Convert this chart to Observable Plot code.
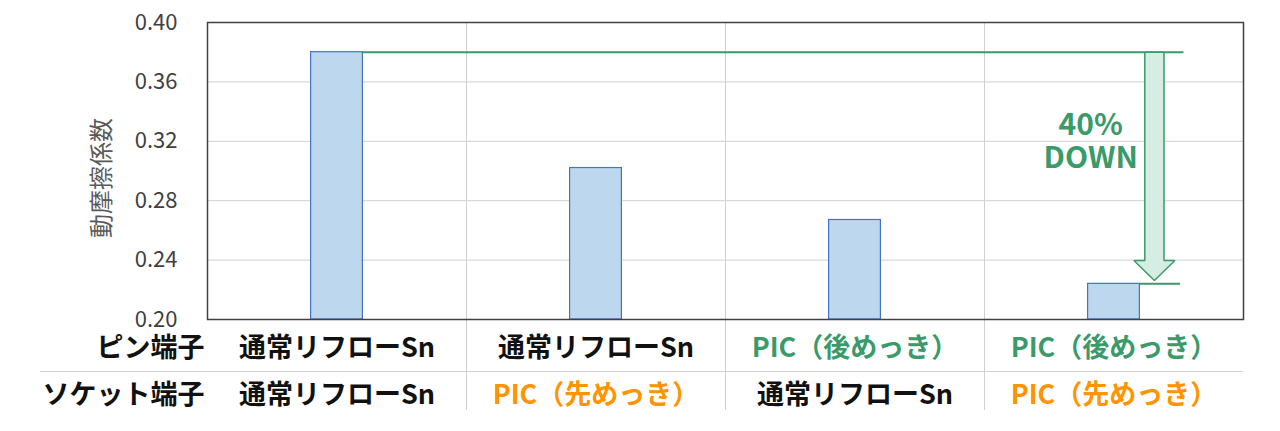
<!DOCTYPE html>
<html>
<head>
<meta charset="utf-8">
<script src="https://cdn.jsdelivr.net/npm/d3@7"></script>
<script src="https://cdn.jsdelivr.net/npm/@observablehq/plot@0.6"></script>
<style>
  html, body { margin: 0; padding: 0; background: #fff; }
</style>
</head>
<body>
<div id="chart"></div>
<script>
const pinLabels = ["通常リフローSn", "通常リフローSn", "PIC（後めっき）", "PIC（後めっき）"];
const socketLabels = ["通常リフローSn", "PIC（先めっき）", "通常リフローSn", "PIC（先めっき）"];
const values = [0.380, 0.302, 0.267, 0.224];
const yTicks = [0.20, 0.24, 0.28, 0.32, 0.36, 0.40];
const rowHeaders = ["ピン端子", "ソケット端子"];
const yLabel = "動摩擦係数";
const annotation = ["40%\nDOWN"];

const GREEN = "#3a9a6a";
const ORANGE = "#ff9300";
const labelColor = {"通常リフローSn": "#111", "PIC（後めっき）": GREEN, "PIC（先めっき）": ORANGE};

// block arrow from first bar level down to last bar level
const ax = 3.656, shaftHalf = 0.037, headHalf = 0.079;
const headBase = 0.2397, tip = 0.2263;
const arrowPts = [
  {x: ax - shaftHalf, y: values[0]},
  {x: ax + shaftHalf, y: values[0]},
  {x: ax + shaftHalf, y: headBase},
  {x: ax + headHalf, y: headBase},
  {x: ax, y: tip},
  {x: ax - headHalf, y: headBase},
  {x: ax - shaftHalf, y: headBase},
  {x: ax - shaftHalf, y: values[0]}
];

const font = "'Noto Sans CJK JP', 'Noto Sans', sans-serif";

const chart = Plot.plot({
  width: 1280,
  height: 431,
  marginLeft: 207,
  marginRight: 37,
  marginTop: 22,
  marginBottom: 112,
  x: {domain: [0, 4], axis: null},
  y: {domain: [0.2, 0.4], axis: null},
  color: {type: "identity"},
  style: {fontFamily: font, background: "#fff", overflow: "visible"},
  marks: [
    Plot.gridY(yTicks, {stroke: "#d9d9d9", strokeOpacity: 1, strokeWidth: 1.2}),
    Plot.ruleX([1, 2, 3], {stroke: "#d0d0d0", strokeWidth: 1, insetBottom: -91}),
    Plot.ruleY([0.2], {dy: 52, insetLeft: -167, stroke: "#d0d0d0", strokeWidth: 1.2}),
    Plot.axisY(yTicks, {tickSize: 0, tickPadding: 30, tickFormat: d3.format(".2f"), fontSize: 22, fill: "#404040", label: null}),
    Plot.text([yLabel], {frameAnchor: "left", textAnchor: "middle", rotate: -90, dx: -105, dy: 7, fontSize: 24, fill: "#595959"}),
    Plot.rectY(values, {x1: (d, i) => i + 0.4, x2: (d, i) => i + 0.6, y1: () => 0.2, y2: d => d, fill: "#bdd7ee", stroke: "#4472c4", strokeWidth: 1.2}),
    Plot.ruleY([values[0]], {x1: () => 0.6, x2: () => 3.77, stroke: GREEN, strokeWidth: 2}),
    Plot.ruleY([values[3]], {x1: () => 3.6, x2: () => 3.757, stroke: GREEN, strokeWidth: 2}),
    Plot.line(arrowPts, {x: "x", y: "y", fill: "#d5ede2", stroke: GREEN, strokeWidth: 1.5, strokeLinejoin: "miter"}),
    Plot.text(annotation, {x: () => 3.41, y: () => 0.3205, fontSize: 30, fontWeight: "bold", fill: GREEN, lineHeight: 1.12}),
    Plot.text(pinLabels, {x: (d, i) => i + 0.5, frameAnchor: "bottom", dy: 37, fill: d => labelColor[d], fontSize: 27, fontWeight: "bold"}),
    Plot.text(socketLabels, {x: (d, i) => i + 0.5, frameAnchor: "bottom", dy: 84, fill: d => labelColor[d], fontSize: 27, fontWeight: "bold"}),
    Plot.text([rowHeaders[0]], {frameAnchor: "bottom-left", textAnchor: "end", dx: -3, dy: 37, fontSize: 27, fontWeight: "bold", fill: "#111"}),
    Plot.text([rowHeaders[1]], {frameAnchor: "bottom-left", textAnchor: "end", dx: -3, dy: 84, fontSize: 27, fontWeight: "bold", fill: "#111"}),
    Plot.frame({stroke: "#404040", strokeWidth: 1.5})
  ]
});
document.getElementById("chart").appendChild(chart);
</script>
</body>
</html>
